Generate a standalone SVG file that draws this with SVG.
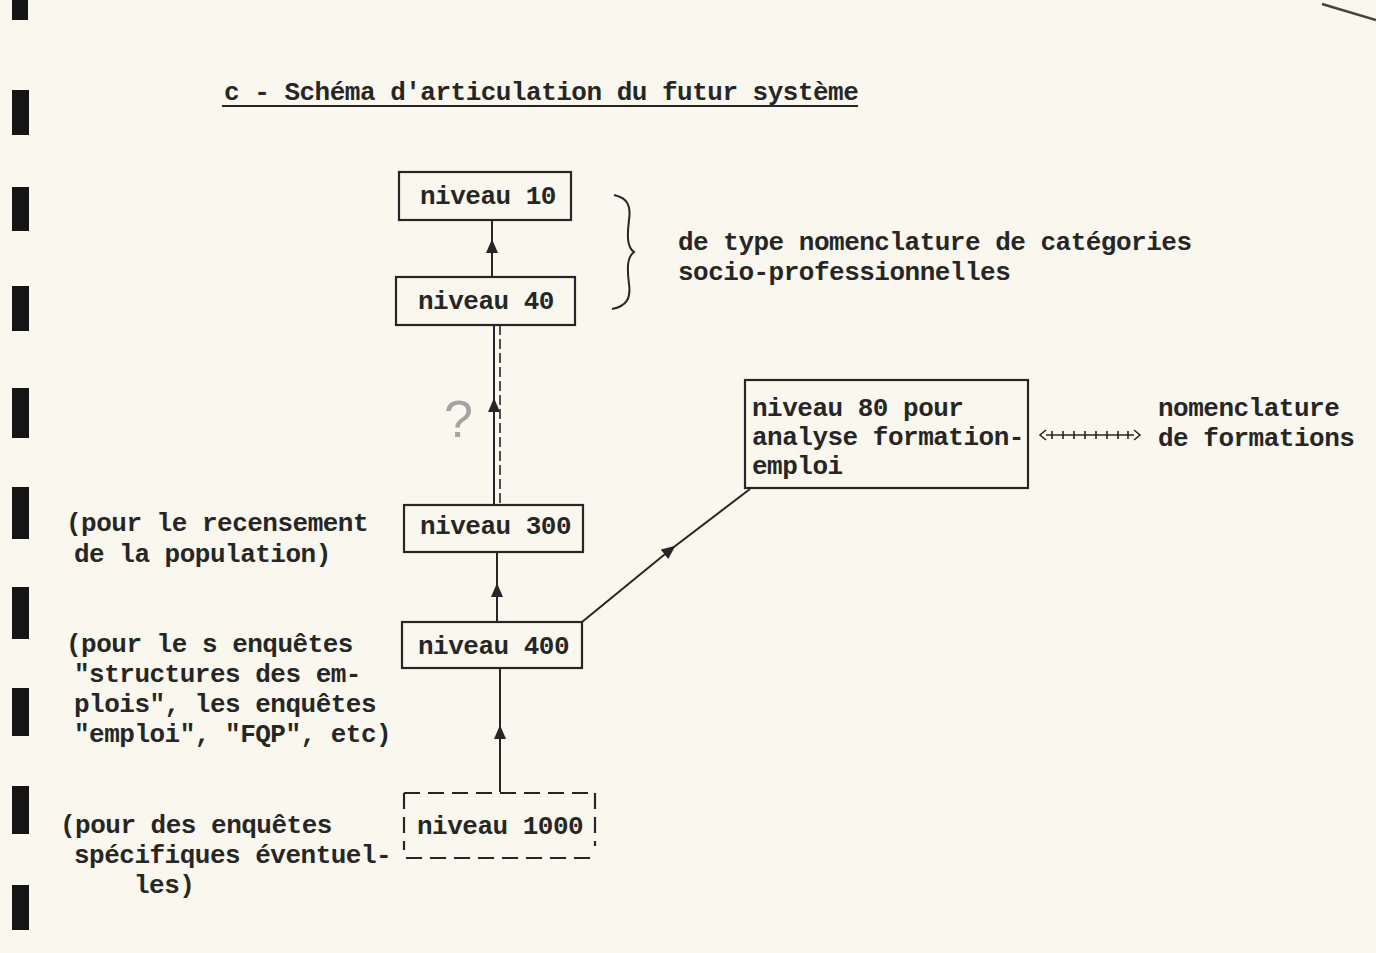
<svg xmlns="http://www.w3.org/2000/svg" width="1376" height="953" viewBox="0 0 1376 953">
<defs>
<style>
.t{font-family:"Liberation Mono","Courier New",monospace;font-size:26px;font-weight:bold;letter-spacing:-0.5px;fill:#262626}
.box{fill:none;stroke:#262626;stroke-width:2.2}
.dbox{fill:none;stroke:#262626;stroke-width:2.2;stroke-dasharray:16,8}
.ln{fill:none;stroke:#262626;stroke-width:2}
.hole{fill:#151515}
</style>
<marker id="ah" viewBox="0 0 14 14" refX="7" refY="7" markerWidth="14" markerHeight="14" markerUnits="userSpaceOnUse" orient="auto">
<path d="M0,1 L14,7 L0,13 Z" fill="#262626"/>
</marker>
</defs>
<rect x="0" y="0" width="1376" height="953" fill="#faf8ee"/>
<g id="binding">
<rect class="hole" x="12" y="0" width="16" height="20"/>
<rect class="hole" x="12" y="90" width="17" height="45"/>
<rect class="hole" x="12" y="187" width="17" height="44"/>
<rect class="hole" x="12" y="286" width="17" height="45"/>
<rect class="hole" x="12" y="388" width="17" height="50"/>
<rect class="hole" x="12" y="487" width="17" height="52"/>
<rect class="hole" x="12" y="587" width="17" height="52"/>
<rect class="hole" x="12" y="688" width="17" height="48"/>
<rect class="hole" x="12" y="786" width="17" height="48"/>
<rect class="hole" x="12" y="885" width="17" height="45"/>
<line x1="1322" y1="4" x2="1376" y2="20" stroke="#444" stroke-width="2.5"/>
</g>
<g id="title">
<text class="t" x="224" y="100">c - Schéma d'articulation du futur système</text>
<line x1="222" y1="106" x2="858" y2="106" stroke="#262626" stroke-width="2.2"/>
</g>
<g id="connectors">
<path class="ln" d="M492,277 L492,246 L492,220" marker-mid="url(#ah)"/>
<path class="ln" d="M494,505 L494,405 L494,325" marker-mid="url(#ah)"/>
<line x1="500" y1="325" x2="500" y2="505" stroke="#262626" stroke-width="1.6" stroke-dasharray="10,4"/>
<path class="ln" d="M497,622 L497,590 L497,552" marker-mid="url(#ah)"/>
<path class="ln" d="M500,792 L500,732 L500,668" marker-mid="url(#ah)"/>
<path class="ln" d="M582,622 L670,550 L750,489" marker-mid="url(#ah)"/>
<g id="double-link" stroke="#262626" fill="none" stroke-width="1.6">
<line x1="1046" y1="435" x2="1134" y2="435"/>
<path d="M1046,430 L1040,435 L1046,440 M1134,430 L1140,435 L1134,440"/>
<path d="M1052,431 v8 M1063,431 v8 M1074,431 v8 M1085,431 v8 M1096,431 v8 M1107,431 v8 M1118,431 v8 M1128,431 v8"/>
</g>
</g>
<g id="n10">
<rect class="box" x="399" y="172" width="172" height="48"/>
<text class="t" x="420" y="204">niveau 10</text>
</g>
<g id="n40">
<rect class="box" x="396" y="277" width="179" height="48"/>
<text class="t" x="418" y="309">niveau 40</text>
</g>
<g id="brace">
<path class="ln" stroke-width="3" d="M614,195 C628,198 631,206 629,220 C627,236 627,247 634,252 C627,257 627,268 629,284 C631,298 627,306 612,309"/>
<text class="t" x="678" y="250">de type nomenclature de catégories</text>
<text class="t" x="678" y="280">socio-professionnelles</text>
</g>
<g id="question">
<text x="444" y="437" font-family="Liberation Sans,Arial,sans-serif" font-size="52" fill="#a3a3a3">?</text>
</g>
<g id="n80">
<rect class="box" x="745" y="380" width="283" height="108"/>
<text class="t" x="752" y="416">niveau 80 pour</text>
<text class="t" x="752" y="445">analyse formation-</text>
<text class="t" x="752" y="474">emploi</text>
</g>
<g id="formations">
<text class="t" x="1158" y="416">nomenclature</text>
<text class="t" x="1158" y="446">de formations</text>
</g>
<g id="n300">
<rect class="box" x="404" y="505" width="179" height="47"/>
<text class="t" x="420" y="534">niveau 300</text>
</g>
<g id="n400">
<rect class="box" x="402" y="622" width="180" height="46"/>
<text class="t" x="418" y="654">niveau 400</text>
</g>
<g id="n1000">
<path class="dbox" d="M404,793 H596"/>
<path class="dbox" d="M404,793 V850" stroke-dasharray="10,6"/>
<path class="dbox" d="M595,793 V846" stroke-dasharray="10,6"/>
<path class="dbox" d="M406,858 H596" stroke-dasharray="14,6"/>
<text class="t" x="417" y="834">niveau 1000</text>
</g>
<g id="notes">
<text class="t" x="66" y="531">(pour le recensement</text>
<text class="t" x="74" y="562">de la population)</text>
<text class="t" x="66" y="652">(pour le s enquêtes</text>
<text class="t" x="74" y="682">"structures des em-</text>
<text class="t" x="74" y="712">plois", les enquêtes</text>
<text class="t" x="74" y="742">"emploi", "FQP", etc)</text>
<text class="t" x="60" y="833">(pour des enquêtes</text>
<text class="t" x="74" y="863">spécifiques éventuel-</text>
<text class="t" x="134" y="893">les)</text>
</g>
</svg>
